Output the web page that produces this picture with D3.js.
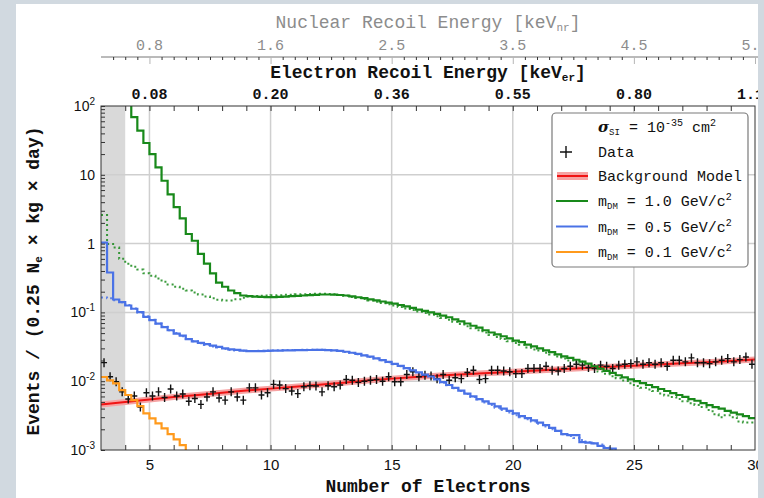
<!DOCTYPE html>
<html>
<head>
<meta charset="utf-8">
<script src="https://cdn.jsdelivr.net/npm/d3@7"></script>
<style>
  body { margin: 0; background: #d1d9e0; }
  svg { display: block; }
  .mono { font-family: "Liberation Mono", "DejaVu Sans Mono", monospace; }
  .sans { font-family: "Liberation Sans", Arial, sans-serif; }
</style>
</head>
<body>
<svg id="chart" width="764" height="498"></svg>
<script>
// ---- values (bins of 0.25 electrons) ----
const binW = 0.25;

// measured spectrum, bin centres 3.125 ... 29.875
const dataStart = 3;
const dataRate = [
  0.0186, 0.0116, 0.0098, 0.0070, 0.0055, 0.0061, 0.0042, 0.0068,
  0.0061, 0.0070, 0.0058, 0.0077, 0.0061, 0.0065, 0.0051, 0.0056,
  0.0046, 0.0059, 0.0070, 0.0057, 0.0053, 0.0070, 0.0059, 0.0053,
  0.0080, 0.0080, 0.0063, 0.0068, 0.0090, 0.0088, 0.0078, 0.0072,
  0.0066, 0.0083, 0.0086, 0.0085, 0.0070, 0.0086, 0.0083, 0.0088,
  0.0106, 0.0103, 0.0096, 0.0100, 0.0103, 0.0106, 0.0100, 0.0116,
  0.0098, 0.0098, 0.0125, 0.0137, 0.0116, 0.0122, 0.0119, 0.0109,
  0.0125, 0.0103, 0.0112, 0.0109, 0.0134, 0.0144, 0.0106, 0.0109,
  0.0144, 0.0144, 0.0141, 0.0137, 0.0129, 0.0129, 0.0153, 0.0153,
  0.0153, 0.0165, 0.0144, 0.0141, 0.0153, 0.0165, 0.0176, 0.0171,
  0.0158, 0.0153, 0.0171, 0.0165, 0.0153, 0.0171, 0.0176, 0.0180,
  0.0191, 0.0176, 0.0185, 0.0176, 0.0185, 0.0165, 0.0202, 0.0202,
  0.0191, 0.0218, 0.0185, 0.0185, 0.0180, 0.0191, 0.0202, 0.0213,
  0.0191, 0.0206, 0.0225, 0.0176
];

// background model
const bgX = [3, 4, 5, 6, 7, 8, 9, 10, 11, 12, 13, 14, 15, 16, 17, 18, 19, 20,
             21, 22, 23, 24, 25, 26, 27, 28, 29, 30];
const bgRate = [0.0046, 0.0050, 0.0054, 0.0059, 0.0063, 0.0068, 0.0073, 0.0078,
                0.0083, 0.0089, 0.0095, 0.0102, 0.0109, 0.0115, 0.0121, 0.0126,
                0.0132, 0.0137, 0.0143, 0.0149, 0.0155, 0.0162, 0.0168, 0.0175,
                0.0182, 0.0189, 0.0197, 0.0206];

// m_DM = 1.0 GeV/c^2
const m10Start = 4;
const m10 = [
  150, 69, 44, 29,
  20, 12.8, 8.2, 5.2,
  3.4, 2.33, 1.38, 1.1,
  0.71, 0.51, 0.37, 0.27,
  0.236, 0.208, 0.19, 0.176,
  0.172, 0.170, 0.168, 0.167,
  0.167, 0.168, 0.170, 0.172,
  0.174, 0.176, 0.178, 0.180,
  0.182, 0.182, 0.181, 0.179,
  0.176, 0.171, 0.166, 0.161,
  0.155, 0.150, 0.144, 0.139,
  0.134, 0.128, 0.122, 0.116,
  0.110, 0.105, 0.100, 0.095,
  0.090, 0.085, 0.079, 0.074,
  0.069, 0.064, 0.060, 0.055,
  0.051, 0.048, 0.045, 0.042,
  0.039, 0.037, 0.034, 0.032,
  0.030, 0.028, 0.0265, 0.0245,
  0.023, 0.0218, 0.0205, 0.0192,
  0.018, 0.0165, 0.0152, 0.0141,
  0.0132, 0.0122, 0.0114, 0.0106,
  0.0100, 0.0094, 0.0088, 0.0082,
  0.0077, 0.0072, 0.0067, 0.0063,
  0.0059, 0.0055, 0.0052, 0.0048,
  0.0045, 0.0042, 0.0040, 0.0037,
  0.0035, 0.0033, 0.0031, 0.0029
];
const m10DotStart = 3;
const m10Dot = [
  2.6, 0.99, 0.88, 0.60,
  0.51, 0.46, 0.42, 0.37,
  0.34, 0.31, 0.28, 0.255,
  0.235, 0.22, 0.208, 0.195,
  0.182, 0.170, 0.160, 0.153,
  0.149, 0.149, 0.155, 0.163,
  0.170, 0.173, 0.175, 0.176,
  0.177, 0.178, 0.180, 0.181,
  0.183, 0.184, 0.185, 0.186,
  0.186, 0.185, 0.183, 0.179,
  0.174, 0.168, 0.162, 0.156,
  0.149, 0.143, 0.137, 0.131,
  0.126, 0.120, 0.114, 0.108,
  0.103, 0.098, 0.093, 0.088,
  0.083, 0.078, 0.073, 0.068,
  0.063, 0.059, 0.055, 0.051,
  0.047, 0.044, 0.041, 0.038,
  0.036, 0.034, 0.031, 0.029,
  0.028, 0.026, 0.0245, 0.0228,
  0.0213, 0.0200, 0.0188, 0.0175,
  0.0162, 0.0150, 0.0138, 0.0128,
  0.0118, 0.0110, 0.0102, 0.0093,
  0.0085, 0.0080, 0.0076, 0.0072,
  0.0066, 0.0062, 0.0059, 0.0055,
  0.0051, 0.0048, 0.0045, 0.0042,
  0.0038, 0.0033, 0.0030, 0.0032,
  0.0030, 0.0026, 0.0025, 0.0025
];

// m_DM = 0.5 GeV/c^2
const m05Start = 3;
const m05 = [
  1.03, 0.38, 0.154, 0.141,
  0.126, 0.113, 0.101, 0.086,
  0.077, 0.0685, 0.061, 0.055,
  0.049, 0.046, 0.041, 0.038,
  0.036, 0.0345, 0.033, 0.0315,
  0.030, 0.029, 0.0285, 0.0278,
  0.0274, 0.0273, 0.0274, 0.0276,
  0.0278, 0.0279, 0.0280, 0.0281,
  0.0282, 0.0283, 0.0284, 0.0285,
  0.0285, 0.0283, 0.0280, 0.0275,
  0.0268, 0.0259, 0.0249, 0.0238,
  0.0227, 0.0215, 0.0203, 0.0191,
  0.0179, 0.0167, 0.0155, 0.0144,
  0.0134, 0.0125, 0.0117, 0.0106,
  0.0097, 0.0088, 0.0080, 0.0073,
  0.0066, 0.0060, 0.0055, 0.0051,
  0.0047, 0.0043, 0.0040, 0.0037,
  0.0034, 0.0031, 0.0029, 0.0027,
  0.0025, 0.0023, 0.0021, 0.0019,
  0.0017, 0.00165, 0.00165, 0.0013,
  0.00128, 0.00125, 0.00115, 0.00107,
  0.00105, 0.0008
];
const m05DotStart = 3;
const m05Dot = [
  0.165, 0.160, 0.150, 0.140,
  0.128, 0.114, 0.100, 0.088,
  0.078, 0.069, 0.062, 0.055,
  0.050, 0.045, 0.041, 0.038,
  0.0355, 0.0335, 0.032, 0.031,
  0.0295, 0.0285, 0.028, 0.0277,
  0.0275, 0.0275, 0.0277, 0.0279,
  0.0280, 0.0281, 0.0283, 0.0284,
  0.0285, 0.0286, 0.0287, 0.0287,
  0.0286, 0.0284, 0.0280, 0.0274,
  0.0266, 0.0257, 0.0247, 0.0236,
  0.0225, 0.0213, 0.0201, 0.0189,
  0.0177, 0.0165, 0.0153, 0.0142,
  0.0132, 0.0122, 0.0113, 0.0104,
  0.0095, 0.0087, 0.0079, 0.0072,
  0.0065, 0.0059, 0.0054, 0.0049,
  0.0045, 0.0041, 0.0038, 0.0035,
  0.0032, 0.0030, 0.0028, 0.0026,
  0.0024, 0.0022, 0.0020, 0.0019,
  0.0017, 0.0016, 0.0015, 0.0014,
  0.0013, 0.00125, 0.0012, 0.0011,
  0.0010, 0.0009
];

// m_DM = 0.1 GeV/c^2
const m01Start = 3;
const m01 = [
  0.0115, 0.0103, 0.0093, 0.0074,
  0.0063, 0.0053, 0.00435, 0.0034,
  0.00288, 0.00244, 0.00206, 0.0017,
  0.00143, 0.00118, 0.0008
];

// axis ticks and labels
const xLabelTicks = [5, 10, 15, 20, 25, 30];
const xGrid = [5, 10, 15, 20, 25];
const erLabels = ["0.08", "0.20", "0.36", "0.55", "0.80", "1.10"];
const nrLabels = ["0.8", "1.6", "2.5", "3.5", "4.5", "5.5"];
const yMajor = [1e-3, 1e-2, 1e-1, 1, 10, 100];
const yLabels = [["10", "-3"], ["10", "-2"], ["10", "-1"], ["1", ""], ["10", ""], ["10", "2"]];
const yGrid = [1e-2, 1e-1, 1, 10];
const threshold = [3, 4];   // shaded region

const cGreen = "#18891a", cBlue = "#4a72e6", cOrange = "#ff9a1c", cRed = "#f01414";

// ---- layout ----
const svg = d3.select("#chart");
const pL = 101, pR = 755, pT = 106, pB = 450;

const x = d3.scaleLinear().domain([3, 30]).range([pL, pR]);
const y = d3.scaleLog().domain([1e-3, 1e2]).range([pB, pT]);

// white page
svg.append("rect").attr("x", 16).attr("y", 4).attr("width", 742).attr("height", 494).attr("fill", "white");

svg.append("clipPath").attr("id", "plotclip")
  .append("rect").attr("x", pL).attr("y", pT).attr("width", pR - pL).attr("height", pB - pT);

const plot = svg.append("g").attr("clip-path", "url(#plotclip)");

plot.append("rect")
  .attr("x", x(threshold[0])).attr("y", pT)
  .attr("width", x(threshold[1]) - x(threshold[0])).attr("height", pB - pT)
  .attr("fill", "#d9d9d9");

plot.selectAll(".vgrid").data(xGrid).enter().append("line")
  .attr("x1", d => x(d)).attr("x2", d => x(d)).attr("y1", pT).attr("y2", pB)
  .attr("stroke", "#cfcfcf").attr("stroke-width", 1.5);
plot.selectAll(".hgrid").data(yGrid).enter().append("line")
  .attr("x1", pL).attr("x2", pR).attr("y1", d => y(d)).attr("y2", d => y(d))
  .attr("stroke", "#cfcfcf").attr("stroke-width", 1.5);

function stepPoints(start, vals) {
  const pts = vals.map((v, i) => [start + i * binW, v]);
  pts.push([start + vals.length * binW, vals[vals.length - 1]]);
  return pts;
}
const stepLine = d3.line().x(d => x(d[0])).y(d => y(d[1])).curve(d3.curveStepAfter);

// dotted variants
[[m10DotStart, m10Dot, cGreen], [m05DotStart, m05Dot, cBlue]].forEach(s => {
  plot.append("path").attr("d", stepLine(stepPoints(s[0], s[1])))
    .attr("fill", "none").attr("stroke", s[2]).attr("stroke-width", 2)
    .attr("stroke-dasharray", "2,3").attr("opacity", 0.85);
});

// background model with band
const bgPts = bgX.map((v, i) => [v, bgRate[i]]);
const bgLine = d3.line().x(d => x(d[0])).y(d => y(d[1]));
plot.append("path").attr("d", bgLine(bgPts))
  .attr("fill", "none").attr("stroke", "#f6a3a3").attr("stroke-width", 6).attr("stroke-linecap", "butt");
plot.append("path").attr("d", bgLine(bgPts))
  .attr("fill", "none").attr("stroke", cRed).attr("stroke-width", 2);

// data crosses
const cross = "M-3,0H3M0,-4.5V4.5";
plot.selectAll(".pt").data(dataRate).enter().append("path")
  .attr("transform", (d, i) => `translate(${x(dataStart + (i + 0.5) * binW)},${y(d)})`)
  .attr("d", cross).attr("stroke", "#111").attr("stroke-width", 1.4).attr("fill", "none");

// signal models
[[m01Start, m01, cOrange], [m05Start, m05, cBlue], [m10Start, m10, cGreen]].forEach(s => {
  plot.append("path").attr("d", stepLine(stepPoints(s[0], s[1])))
    .attr("fill", "none").attr("stroke", s[2]).attr("stroke-width", 2.2)
    .attr("stroke-linejoin", "miter");
});

// ---- axes ----
const axes = svg.append("g");

// inner ticks top / bottom (every electron)
const minorX = d3.range(4, 30);
axes.append("g").attr("transform", `translate(0,${pB})`)
  .call(d3.axisBottom(x).tickValues(minorX).tickSize(-5).tickFormat(""))
  .call(g => g.select(".domain").remove())
  .selectAll("line").attr("stroke", "#333");
axes.append("g").attr("transform", `translate(0,${pT})`)
  .call(d3.axisTop(x).tickValues(minorX).tickSize(-5).tickFormat(""))
  .call(g => g.select(".domain").remove())
  .selectAll("line").attr("stroke", "#333");

// left log ticks
axes.append("g").attr("transform", `translate(${pL},0)`)
  .call(d3.axisLeft(y).tickValues(y.ticks()).tickSize(-4).tickFormat(""))
  .call(g => g.select(".domain").remove())
  .selectAll("line").attr("stroke", "#333");

// bottom labels
axes.append("g").attr("transform", `translate(0,${pB})`)
  .call(d3.axisBottom(x).tickValues(xLabelTicks).tickSize(0).tickPadding(9).tickFormat(d3.format("d")))
  .call(g => g.select(".domain").remove())
  .selectAll("text").attr("class", "sans").attr("font-size", 15).attr("fill", "#111");

// left labels
const yl = axes.selectAll(".ylab").data(yMajor).enter().append("text")
  .attr("class", "sans").attr("font-size", 14).attr("fill", "#111")
  .attr("text-anchor", "end").attr("x", 95).attr("y", d => y(d) + 5);
yl.append("tspan").text((d, i) => yLabels[i][0]);
yl.append("tspan").attr("dy", -6).attr("font-size", 10).text((d, i) => yLabels[i][1]);

// frame
svg.append("rect").attr("x", pL).attr("y", pT).attr("width", pR - pL).attr("height", pB - pT)
  .attr("fill", "none").attr("stroke", "#333").attr("stroke-width", 1);

// electron recoil labels (top of frame)
axes.selectAll(".er").data(xLabelTicks).enter().append("text")
  .attr("class", "mono").attr("font-size", 15).attr("font-weight", "bold").attr("fill", "#111")
  .attr("text-anchor", "middle").attr("x", d => x(d)).attr("y", 99)
  .text((d, i) => erLabels[i]);

const erTitle = axes.append("text").attr("class", "mono").attr("font-size", 18).attr("font-weight", "bold")
  .attr("fill", "#111").attr("text-anchor", "middle").attr("x", (pL + pR) / 2).attr("y", 78);
erTitle.append("tspan").text("Electron Recoil Energy [keV");
erTitle.append("tspan").attr("font-size", 11).attr("dy", 3).text("er");
erTitle.append("tspan").attr("dy", -3).text("]");

// nuclear recoil axis
const nrY = 57;
axes.append("line").attr("x1", pL).attr("x2", 764).attr("y1", nrY).attr("y2", nrY)
  .attr("stroke", "#777").attr("stroke-width", 1);
axes.append("g").attr("transform", `translate(0,${nrY})`)
  .call(d3.axisBottom(x).tickValues(d3.range(3.5, 30.5, 0.5).filter(v => v % 5 !== 0)).tickSize(3).tickFormat(""))
  .call(g => g.select(".domain").remove())
  .selectAll("line").attr("stroke", "#333");
axes.append("g").attr("transform", `translate(0,${nrY})`)
  .call(d3.axisBottom(x).tickValues(xLabelTicks).tickSize(7).tickFormat(""))
  .call(g => g.select(".domain").remove())
  .selectAll("line").attr("stroke", "#b5b5b5");
axes.selectAll(".nr").data(xLabelTicks).enter().append("text")
  .attr("class", "mono").attr("font-size", 15).attr("fill", "#8c8c8c")
  .attr("text-anchor", "middle").attr("x", d => x(d)).attr("y", 50)
  .text((d, i) => nrLabels[i]);
const nrTitle = axes.append("text").attr("class", "mono").attr("font-size", 18)
  .attr("fill", "#8c8c8c").attr("text-anchor", "middle").attr("x", (pL + pR) / 2).attr("y", 28);
nrTitle.append("tspan").text("Nuclear Recoil Energy [keV");
nrTitle.append("tspan").attr("font-size", 11).attr("dy", 3).text("nr");
nrTitle.append("tspan").attr("dy", -3).text("]");

// axis titles
axes.append("text").attr("class", "mono").attr("font-size", 18).attr("font-weight", "bold")
  .attr("fill", "#111").attr("text-anchor", "middle").attr("x", (pL + pR) / 2).attr("y", 492)
  .text("Number of Electrons");
const yTitle = axes.append("text").attr("class", "mono").attr("font-size", 18).attr("font-weight", "bold")
  .attr("fill", "#111").attr("text-anchor", "middle")
  .attr("transform", `translate(39,${(pT + pB) / 2 + 3}) rotate(-90)`);
yTitle.append("tspan").text("Events / (0.25 N");
yTitle.append("tspan").attr("font-size", 11).attr("dy", 3).text("e");
yTitle.append("tspan").attr("dy", -3).text(" × kg × day)");

// ---- legend ----
const lg = svg.append("g");
lg.append("rect").attr("x", 552).attr("y", 113).attr("width", 196).attr("height", 154).attr("rx", 4)
  .attr("fill", "white").attr("stroke", "#7a7a7a").attr("stroke-width", 1.2);
const lx = 598;
const t0 = lg.append("text").attr("class", "mono").attr("font-size", 15).attr("fill", "#111")
  .attr("x", lx).attr("y", 132);
t0.append("tspan").attr("font-weight", "bold").attr("font-style", "italic").attr("font-family", "DejaVu Serif").text("σ");
t0.append("tspan").attr("font-size", 9).attr("dy", 3).text("SI");
t0.append("tspan").attr("dy", -3).text(" = 10");
t0.append("tspan").attr("font-size", 10).attr("dy", -6).text("-35");
t0.append("tspan").attr("dy", 6).text(" cm");
t0.append("tspan").attr("font-size", 10).attr("dy", -6).text("2");

lg.append("path").attr("transform", "translate(566,152)").attr("d", "M-6,0H6M0,-6V6")
  .attr("stroke", "#111").attr("stroke-width", 1.4);
lg.append("text").attr("class", "mono").attr("font-size", 15).attr("fill", "#111")
  .attr("x", lx).attr("y", 157).text("Data");

lg.append("rect").attr("x", 557).attr("y", 172).attr("width", 31).attr("height", 8).attr("fill", "#f6a3a3");
lg.append("line").attr("x1", 557).attr("x2", 588).attr("y1", 176).attr("y2", 176).attr("stroke", cRed).attr("stroke-width", 2);
lg.append("text").attr("class", "mono").attr("font-size", 15).attr("fill", "#111")
  .attr("x", lx).attr("y", 181).text("Background Model");

const massLabels = ["1.0", "0.5", "0.1"];
const massColors = [cGreen, cBlue, cOrange];
massLabels.forEach((m, i) => {
  const yy = 201 + i * 25.5;
  lg.append("line").attr("x1", 556).attr("x2", 588).attr("y1", yy).attr("y2", yy)
    .attr("stroke", massColors[i]).attr("stroke-width", 2);
  const t = lg.append("text").attr("class", "mono").attr("font-size", 15).attr("fill", "#111")
    .attr("x", lx).attr("y", yy + 5);
  t.append("tspan").text("m");
  t.append("tspan").attr("font-size", 9).attr("dy", 3).text("DM");
  t.append("tspan").attr("dy", -3).text(` = ${m} GeV/c`);
  t.append("tspan").attr("font-size", 10).attr("dy", -6).text("2");
});

// screenshot margins (the source image is cropped on the right)
svg.append("rect").attr("x", 758).attr("y", 0).attr("width", 6).attr("height", 498).attr("fill", "#d1d9e0");
svg.append("rect").attr("x", 0).attr("y", 0).attr("width", 764).attr("height", 4).attr("fill", "#d1d9e0");
</script>
</body>
</html>
